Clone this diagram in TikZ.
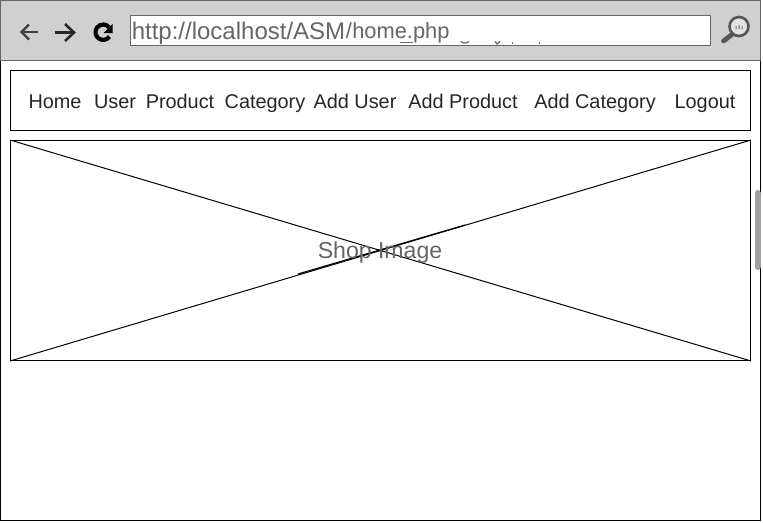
\documentclass[tikz,border=0pt]{standalone}
\usepackage{fontspec}
\setmainfont{Liberation Sans}
\definecolor{barfill}{HTML}{D0D0D0}
\definecolor{bargrey}{HTML}{666666}
\definecolor{urltext}{HTML}{666666}
\definecolor{iconink}{HTML}{3A3F44}
\definecolor{scrollgrey}{HTML}{A0A0A0}
\tikzset{
  x=0.75pt,y=-0.75pt,
  menuitem/.style={inner sep=0pt,text=black!85,font=\fontsize{14.9pt}{16pt}\selectfont,anchor=base},
  framebox/.style={draw=black,line width=0.75pt,fill=white},
  urllabel/.style={inner sep=0pt,text=urltext,anchor=base west},
}
\begin{document}
\begin{tikzpicture}
\useasboundingbox (0,0) rectangle (763,522);
\fill[white] (0,0) rectangle (763,522);
% browser window
\draw[draw=black,line width=0.75pt] (0.5,0.5) rectangle (760.5,520.5);
\fill[barfill] (0.5,0.5) rectangle (760.5,60.5);
\draw[bargrey,line width=0.75pt] (0.5,60.5) -- (0.5,0.5) -- (760.5,0.5) -- (760.5,60.5) -- cycle;
% scrollbar
\draw[line cap=round,line width=4.5pt,color=scrollgrey] (757.5,193) -- (757.5,267);
% nav icons
\draw[iconink,line width=1.6pt] (38,32) -- (22,32);
\draw[iconink,line width=1.6pt] (29,24.5) -- (21.5,32) -- (29,39.5);
\draw[black!85,line width=1.9pt] (55,32.5) -- (74,32.5);
\draw[black!85,line width=1.9pt] (65,24) -- (74,32.5) -- (65,41);
\draw[black,line width=3.1pt] (109.5,36.6) arc[start angle=35,end angle=320,radius=7.7];
\fill[black] (112.5,24) -- (112.5,33) -- (103.5,33) -- cycle;
% address box
\node[draw=bargrey,fill=white,line width=0.75pt,minimum width=580.2*0.75pt,minimum height=29.2*0.75pt,inner sep=0pt] (url) at (420.5,30.5) {};
\node[urllabel,font=\fontsize{18pt}{20pt}\selectfont] (urla) at (131.5,39) {http://localhost/ASM};
\node[urllabel,font=\fontsize{16.4pt}{20pt}\selectfont] (urlb) at (345.5,38) {/};
\node[urllabel,font=\fontsize{16.4pt}{20pt}\selectfont] (urlc) at (352,38) {home.php};
\draw[urltext,line width=0.8pt] (400,42.5) -- (413,42.5);
\draw[urltext,line width=0.9pt] (461,41.5) .. controls (463,43.5) and (467,43.5) .. (469,41.5);
\draw[urltext,line width=0.9pt] (495,41.5) -- (497,44) -- (500,41.5);
\draw[urltext,line width=0.9pt] (512.5,41.5) -- (512.5,44);
\draw[urltext,line width=0.9pt] (539.5,41.5) -- (539.5,44);
% magnifier
\draw[bargrey!85!black,line width=2pt,fill=barfill!60] (739,26.5) circle[radius=9.5];
\draw[bargrey!85!black,line width=3.6pt,line cap=round] (732,34.5) -- (723.5,41);
\fill[bargrey] (735.5,26) rectangle (736.5,29) (738.5,25) rectangle (739.5,29) (741.5,26) rectangle (742.5,29);
% menu bar
\node[framebox,minimum width=740*0.75pt,minimum height=60*0.75pt,inner sep=0pt] (menu) at (380.5,100.5) {};
\node[menuitem] (home) at (55,108) {Home};
\node[menuitem] (user) at (115,108) {User};
\node[menuitem] (product) at (180,108) {Product};
\node[menuitem] (category) at (265,108) {Category};
\node[menuitem] (adduser) at (355,108) {Add User};
\node[menuitem] (addproduct) at (463,108) {Add Product};
\node[menuitem] (addcategory) at (595,108) {Add Category};
\node[menuitem] (logout) at (705,108) {Logout};
% image placeholder
\node[framebox,minimum width=740*0.75pt,minimum height=220*0.75pt,inner sep=0pt] (img) at (380.5,250.5) {};
\draw[black,line width=0.75pt] (img.north west) -- (img.south east);
\draw[black,line width=0.75pt] (img.south west) -- (img.north east);
\draw[black,line width=0.85pt] (298,274) -- (465,225);
\node[inner sep=0pt,text=urltext,font=\fontsize{17.3pt}{20pt}\selectfont,anchor=base] (imglabel) at (380,258) {Shop Image};
\end{tikzpicture}
\end{document}
